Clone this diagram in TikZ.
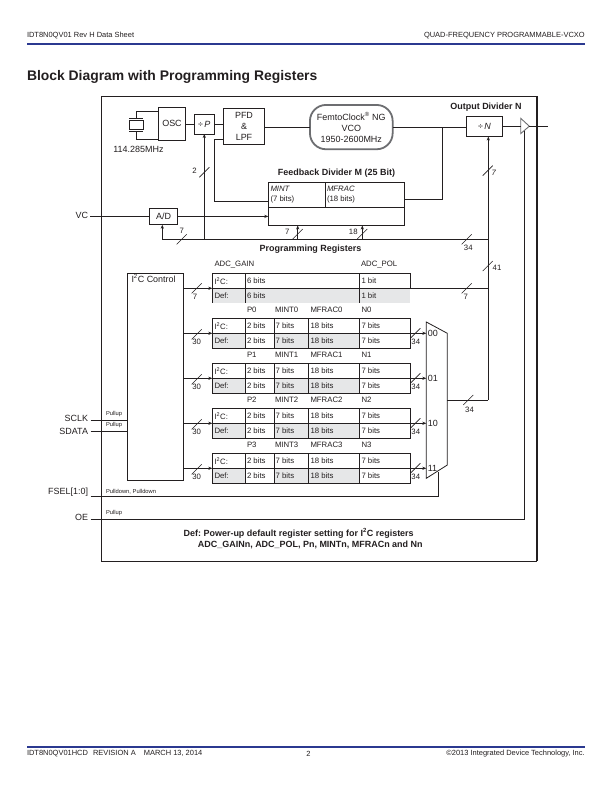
\documentclass[tikz,border=0pt]{standalone}
\usepackage{fontspec}
\setmainfont{Liberation Sans}
\usetikzlibrary{arrows.meta,calc}
\frenchspacing
\definecolor{rulenavy}{HTML}{2B3990}
\definecolor{inkc}{HTML}{231F20}
\definecolor{defgrey}{HTML}{E6E7E8}
\definecolor{shellgrey}{HTML}{6D6E71}
\newcommand\fsMain{\fontsize{9}{11}\selectfont}
\newcommand\fsCell{\fontsize{7.8}{9}\selectfont}
\newcommand\fsTiny{\fontsize{5.8}{7}\selectfont}
\newcommand\fsPage{\fontsize{7.5}{9}\selectfont}
\tikzset{
  x=1bp,y=-1bp,
  every node/.style={inner sep=0pt,outer sep=0pt,text=inkc},
  wire/.style={draw=inkc,line width=0.8pt},
  arrowwire/.style={wire,-{Stealth[length=4bp,width=3.2bp]}},
  slashmark/.style={draw=inkc,line width=0.6pt},
  block/.style={draw=inkc,line width=0.9pt,fill=white,font=\fsMain,align=center},
  plain/.style={font=\fsMain,align=center},
  cell/.style={font=\fsCell,anchor=west},
  toplabel/.style={font=\fsCell,anchor=west},
  bitcount/.style={font=\fsCell},
  tiny/.style={font=\fsTiny,anchor=west},
  heading/.style={font=\fsMain\bfseries,align=center},
  pinname/.style={font=\fsMain,anchor=east},
  gridline/.style={draw=inkc,line width=0.9pt},
}
% short bus tick centred on a point
\newcommand\busmark[2]{\draw[slashmark] ($(#1,#2)+(-5,5)$) -- ($(#1,#2)+(5,-5)$);}
% one programming register bank: index, top edge
\newcommand\regbank[2]{%
  \pgfmathsetmacro\ymid{#2+15}\pgfmathsetmacro\ybot{#2+30}%
  \pgfmathsetmacro\ylabel{#2-8.3}\pgfmathsetmacro\yrowa{#2+7.5}\pgfmathsetmacro\yrowb{#2+22.5}%
  \fill[defgrey] (212.3,\ymid) rectangle (245.3,\ybot);
  \fill[defgrey] (274,\ymid) rectangle (359.7,\ybot);
  \draw[gridline] (212.3,#2) rectangle (410.3,\ybot);
  \draw[gridline] (212.3,\ymid) -- (410.3,\ymid);
  \foreach \cx in {245.3,274,308.3,359.7}{\draw[gridline] (\cx,#2) -- (\cx,\ybot);}
  \node[toplabel] (lbP#1) at (247,\ylabel) {P#1};
  \node[toplabel] (lbM#1) at (275,\ylabel) {MINT#1};
  \node[toplabel] (lbF#1) at (310.5,\ylabel) {MFRAC#1};
  \node[toplabel] (lbN#1) at (361.5,\ylabel) {N#1};
  \node[cell] (iic#1) at (214.5,\yrowa) {I\textsuperscript{2}C:};
  \node[cell] (def#1) at (214.5,\yrowb) {Def:};
  \foreach \cx/\ct/\cn in {247/2 bits/a,275.7/7 bits/b,310.5/18 bits/c,361.5/7 bits/d}{
    \node[cell] (ri#1\cn) at (\cx,\yrowa) {\ct};
    \node[cell] (rd#1\cn) at (\cx,\yrowb) {\ct};
  }
  \coordinate (bank#1) at (212.3,\ymid);
  \coordinate (bankout#1) at (410.3,\ymid);
}
\begin{document}
\begin{tikzpicture}
\useasboundingbox (0,0) rectangle (612,792);
\fill[white] (0,0) rectangle (612,792);

% page furniture
\node[font=\fsPage,anchor=west] (hdl) at (27,35.7) {IDT8N0QV01 Rev H Data Sheet};
\node[font=\fsPage,anchor=east] (hdr) at (584.7,35.7) {QUAD-FREQUENCY PROGRAMMABLE-VCXO};
\draw[rulenavy,line width=1.8pt] (27,44) -- (584.7,44);
\node[font=\fontsize{13.95}{16}\selectfont\bfseries,anchor=west] (title) at (27,76.5) {Block Diagram with Programming Registers};
\draw[rulenavy,line width=1.8pt] (27,747) -- (584.7,747);
\node[font=\fsPage,anchor=west] (ftl) at (27,754) {IDT8N0QV01HCD\hspace{5bp}REVISION A\hspace{8bp}MARCH 13, 2014};
\node[font=\fsPage] (ftc) at (308.5,754) {2};
\node[font=\fsPage,anchor=east] (ftr) at (584.7,754) {©2013 Integrated Device Technology, Inc.};

% device outline
\draw[inkc,line width=0.8pt] (101.7,96) rectangle (536.8,561);
\draw[inkc,line width=1.5pt] (536.8,96) -- (536.8,561);

% synthesiser chain
\node[block,minimum width=27.4bp,minimum height=32.7bp] (osc) at (172,123.6) {OSC};
\node[block,minimum width=19.7bp,minimum height=20bp] (divp) at (204.2,124) {÷\,\textit{P}};
\node[block,minimum width=41.4bp,minimum height=35.7bp] (pfd) at (244,126.1) {PFD\\\&\\LPF};
\node[block,draw=shellgrey,line width=1.8pt,rounded corners=16bp,minimum width=82.7bp,minimum height=44.3bp] (vco) at (351.3,127.1)
  {FemtoClock\textsuperscript{®} NG\\VCO\\1950-2600MHz};
\node[block,minimum width=36.4bp,minimum height=19.6bp] (divn) at (484.5,126.5) {÷\,\textit{N}};

% crystal
\coordinate (xtop) at (136,111.5);
\coordinate (xbot) at (136,139);
\draw[wire] (osc.west |- xtop) -- (xtop) -- (136,118.7);
\draw[wire] (osc.west |- xbot) -- (xbot) -- (136,131.5);
\draw[wire] (129,118.7) -- (143,118.7);
\draw[wire] (129,131.5) -- (143,131.5);
\draw[wire] (129,120.6) rectangle (143,129.6);
\node[plain] (xfreq) at (138.5,149) {114.285MHz};

\draw[wire] (osc.east |- divp) -- (divp.west);
\draw[wire] (divp.east) -- (pfd.west |- divp);
\draw[wire] (pfd.east |- vco) -- (vco.west);
\draw[wire] (vco.east) -- (divn.west |- vco);
\node[heading] (outhead) at (486,106.7) {Output Divider N};

% feedback divider
\node[heading] (fbhead) at (336.5,173) {Feedback Divider M (25 Bit)};
\node[draw=inkc,line width=0.9pt,minimum width=136bp,minimum height=43bp] (fb) at (336.3,203.8) {};
\draw[gridline] (268.3,207.3) -- (404.3,207.3);
\draw[gridline] (325.3,182.3) -- (325.3,207.3);
\node[cell] (minta) at (270.5,189) {\textit{MINT}};
\node[cell] (mintb) at (270.5,199) {(7 bits)};
\node[cell] (mfraca) at (327,189) {\textit{MFRAC}};
\node[cell] (mfracb) at (327,199) {(18 bits)};
\coordinate (fbr) at (442.3,199.3);
\coordinate (fbl) at (214.3,201.3);
\draw[wire] (442.3,127.1) -- (fbr) -- (fb.east |- fbr);
\draw[wire] (pfd.west |- 0,139) -- (214.3,139) -- (fbl) -- (fb.west |- fbl);

% VC input and converter
\node[block,minimum width=28.4bp,minimum height=16.7bp] (ad) at (163.5,216.4) {A/D};
\coordinate (pinvc) at (90,216.4);
\node[pinname] (lvc) at (88,215) {VC};
\draw[wire] (pinvc) -- (ad.west);
\draw[arrowwire] (ad.east) -- (fb.west |- ad);

% programming bus
\coordinate (busl) at (162.3,239.3);
\coordinate (busr) at (488.3,239.3);
\draw[wire] (busl) -- (busr);
\draw[arrowwire] (busl) -- (busl |- ad.south);
\draw[arrowwire] (204.3,239.3) -- (divp.south -| 204.3,0);
\draw[arrowwire] (297.7,239.3) -- (297.7,225.5);
\draw[arrowwire] (362.3,239.3) -- (362.3,225.5);
\draw[arrowwire] (488.3,400) -- (488.3,136.5);
\busmark{204.3}{172.3}
\busmark{181.7}{239.3}
\busmark{297.7}{234}
\busmark{362.3}{234}
\busmark{466.7}{239.3}
\busmark{487.7}{170.7}
\busmark{487.7}{266}
\node[bitcount] (n2) at (194.5,171) {2};
\node[bitcount] (n7a) at (181.7,231) {7};
\node[bitcount] (n7b) at (287.3,231.5) {7};
\node[bitcount] (n18) at (353.3,231.5) {18};
\node[bitcount] (n34t) at (468.3,248) {34};
\node[bitcount] (n7r) at (494,173) {\textit{7}};
\node[bitcount] (n41) at (497,268) {41};
\node[heading] (proghead) at (310.5,249.5) {Programming Registers};

% ADC register pair
\fill[defgrey] (212.3,288.3) rectangle (410.3,303.3);
\draw[gridline] (212.3,273.3) rectangle (410.3,288.3);
\draw[gridline] (212.3,288.3) -- (212.3,303.3);
\draw[gridline] (245.3,273.3) -- (245.3,303.3);
\draw[gridline] (359.7,273.3) -- (359.7,303.3);
\node[toplabel] (adcg) at (214.5,265) {ADC\_GAIN};
\node[toplabel] (adcp) at (361,265) {ADC\_POL};
\node[cell] (adci) at (214.5,280.8) {I\textsuperscript{2}C:};
\node[cell] (adcd) at (214.5,295.8) {Def:};
\node[cell] (adc6i) at (247,280.8) {6 bits};
\node[cell] (adc6d) at (247,295.8) {6 bits};
\node[cell] (adc1i) at (361.5,280.8) {1 bit};
\node[cell] (adc1d) at (361.5,295.8) {1 bit};
\coordinate (adcin) at (212.3,288.3);
\coordinate (adcout) at (410.3,288.3);

% mode register banks
\regbank{0}{318.3}
\regbank{1}{363.3}
\regbank{2}{408.3}
\regbank{3}{453.3}

% serial control block
\node[draw=inkc,line width=0.9pt,minimum width=56.4bp,minimum height=207bp] (ctrl) at (155.5,376.8) {};
\node[font=\fsMain,anchor=base west] (ctrltext) at (131.5,282) {I\textsuperscript{2}C Control};
\draw[arrowwire] (ctrl.east |- adcin) -- (adcin);
\busmark{196.7}{288.3}
\node[bitcount] (n7c) at (195,297.3) {7};
\foreach \k in {0,1,2,3}{
  \draw[arrowwire] (ctrl.east |- bank\k) -- (bank\k);
  \path (bank\k) ++(-15.6,1) coordinate (tickl\k);
  \draw[slashmark] ($(tickl\k)+(-5,5)$) -- ($(tickl\k)+(5,-5)$);
  \node[bitcount] (n30\k) at ($(bank\k)+(-15.6,9)$) {30};
}

% bank selector
\coordinate (mtl) at (426.3,322);
\coordinate (mtr) at (447.3,333.3);
\coordinate (mbr) at (447.3,465);
\coordinate (mbl) at (426.3,478.3);
\draw[inkc,line width=0.8pt,fill=white] (mtl) -- (mtr) -- (mbr) -- (mbl) -- cycle;
\foreach \k/\sel in {0/00,1/01,2/10,3/11}{
  \draw[arrowwire] (bankout\k) -- (bankout\k -| mtl);
  \draw[slashmark] ($(bankout\k)+(0,5)$) -- ($(bankout\k)+(10,-5)$);
  \node[bitcount] (n34\k) at ($(bankout\k)+(5.5,9)$) {34};
  \node[font=\fsMain,anchor=west] (sel\k) at ($(bankout\k -| mtl)+(1.5,-0.3)$) {\sel};
}

% register outputs to the dividers
\coordinate (muxout) at (447.3,400);
\draw[wire] (muxout) -- (488.3,400);
\draw[wire] (adcout) -- (488.3,288.3);
\busmark{468.3}{400}
\busmark{466.7}{288.3}
\node[bitcount] (n7d) at (465.7,297) {7};
\node[bitcount] (n34o) at (469.5,410) {34};

% external pins
\node[pinname] (lsclk) at (88,418.5) {SCLK};
\node[pinname] (lsdata) at (88,431) {SDATA};
\node[pinname] (lfsel) at (88,492) {FSEL[1:0]};
\node[pinname] (loe) at (88,517) {OE};
\coordinate (psclk) at (90.7,420.7);
\coordinate (psdata) at (90.7,431);
\coordinate (pfsel) at (90.7,496.3);
\coordinate (poe) at (90.7,519.3);
\draw[wire] (psclk) -- (ctrl.west |- psclk);
\draw[wire] (psdata) -- (ctrl.west |- psdata);
\draw[wire] (pfsel) -- (438.3,496.3) -- (438.3,471.7);
\draw[wire] (poe) -- (524.3,519.3) -- (524.3,126.2);
\node[tiny] (pu1) at (106,414.5) {Pullup};
\node[tiny] (pu2) at (106,425) {Pullup};
\node[tiny] (pd) at (106,491.7) {Pulldown, Pulldown};
\node[tiny] (pu3) at (106,513.3) {Pullup};

% output buffer
\coordinate (bufin) at (520.7,126.2);
\coordinate (bufout) at (529.3,126.2);
\coordinate (pinout) at (548.3,126.2);
\draw[shellgrey,line width=0.9pt,fill=white] (520.7,118.3) -- (bufout) -- (520.7,133.6) -- cycle;
\draw[wire] (divn.east |- bufin) -- (bufin);
\draw[wire] (bufout) -- (pinout);

% footnote
\node[heading] (note1) at (298.7,533.7) {Def: Power-up default register setting for I\textsuperscript{2}C registers};
\node[heading] (note2) at (310.3,544.9) {ADC\_GAINn, ADC\_POL, Pn, MINTn, MFRACn and Nn};
\end{tikzpicture}
\end{document}
